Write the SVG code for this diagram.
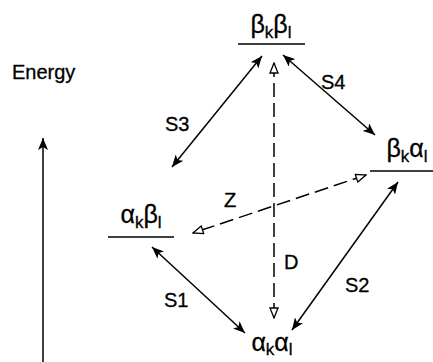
<svg xmlns="http://www.w3.org/2000/svg" width="433" height="362" viewBox="0 0 433 362">
<style>
text{font-family:"Liberation Sans",Arial,sans-serif;fill:#000;stroke:#000;stroke-width:0.3}
.lbl{font-size:20px}
.st{font-size:25px}
.sub{font-size:17px}
.lvl{stroke:#000;stroke-width:1.6}
.s{stroke:#000;stroke-width:1.5;fill:none}
.d{stroke:#000;stroke-width:1.5;fill:none;stroke-dasharray:14 6}
</style>
<defs>
<marker id="fa" viewBox="0 0 12 10" refX="12" refY="5" markerWidth="12" markerHeight="10" markerUnits="userSpaceOnUse" orient="auto-start-reverse">
<path d="M0,0 L12,5 L0,10 L3,5 z" fill="#000"/>
</marker>
<marker id="oa" viewBox="0 0 12 10" refX="11" refY="5" markerWidth="12" markerHeight="10" markerUnits="userSpaceOnUse" orient="auto-start-reverse">
<path d="M1,1 L11,5 L1,9 z" fill="#fff" stroke="#000" stroke-width="1.3"/>
</marker>
</defs>
<g id="axis">
<text class="lbl" x="12" y="79">Energy</text>
<line class="s" x1="43" y1="362" x2="43" y2="138" marker-end="url(#fa)"/>
</g>
<g id="bkbl">
<text class="st" x="271" y="33" text-anchor="middle">β<tspan class="sub" dy="5">k</tspan><tspan dy="-5">β</tspan><tspan class="sub" dy="5">l</tspan></text>
<line class="lvl" x1="238" y1="44" x2="305" y2="44"/>
</g>
<g id="akbl">
<text class="st" x="141" y="223" text-anchor="middle">α<tspan class="sub" dy="5">k</tspan><tspan dy="-5">β</tspan><tspan class="sub" dy="5">l</tspan></text>
<line class="lvl" x1="108" y1="237" x2="174" y2="237"/>
</g>
<g id="bkal">
<text class="st" x="407" y="157" text-anchor="middle">β<tspan class="sub" dy="5">k</tspan><tspan dy="-5">α</tspan><tspan class="sub" dy="5">l</tspan></text>
<line class="lvl" x1="370" y1="171" x2="433" y2="171"/>
</g>
<g id="akal">
<text class="st" x="272" y="351" text-anchor="middle">α<tspan class="sub" dy="4">k</tspan><tspan dy="-4">α</tspan><tspan class="sub" dy="4">l</tspan></text>
</g>
<g id="connectors">
<line class="s" x1="262" y1="56" x2="172" y2="167" marker-start="url(#fa)" marker-end="url(#fa)"/>
<line class="s" x1="283" y1="55" x2="375" y2="135" marker-start="url(#fa)" marker-end="url(#fa)"/>
<line class="s" x1="152" y1="247" x2="245" y2="333" marker-start="url(#fa)" marker-end="url(#fa)"/>
<line class="s" x1="398" y1="182" x2="292" y2="330" marker-start="url(#fa)" marker-end="url(#fa)"/>
<line class="d" x1="274" y1="63" x2="274" y2="318" marker-start="url(#oa)" marker-end="url(#oa)"/>
<line class="d" x1="366" y1="175" x2="193" y2="233" marker-start="url(#oa)" marker-end="url(#oa)"/>
<text class="lbl" x="165" y="131">S3</text>
<text class="lbl" x="321" y="89">S4</text>
<text class="lbl" x="224" y="207">Z</text>
<text class="lbl" x="284" y="269">D</text>
<text class="lbl" x="345" y="292">S2</text>
<text class="lbl" x="164" y="307">S1</text>
</g>
</svg>
